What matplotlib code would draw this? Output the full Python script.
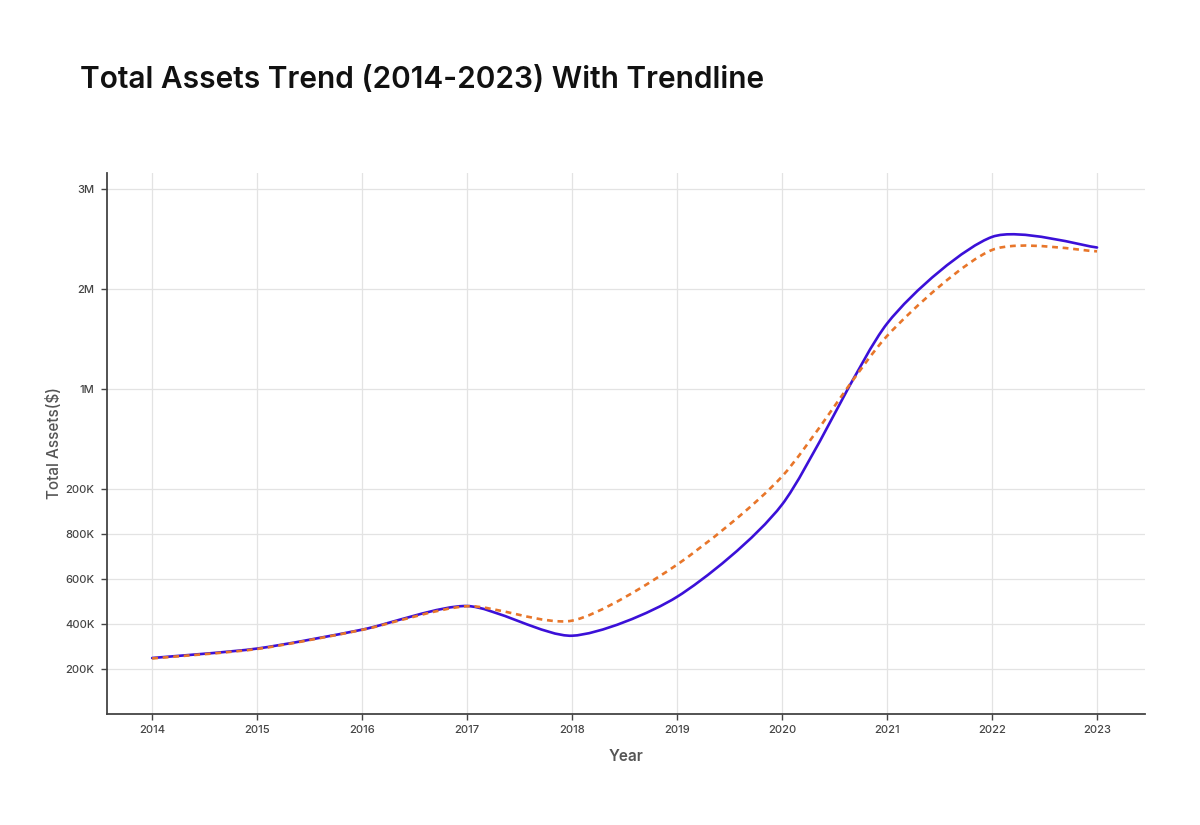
import numpy as np
import matplotlib
matplotlib.use("Agg")
import matplotlib.pyplot as plt
from matplotlib.path import Path
from matplotlib.patches import PathPatch

years = [2014, 2015, 2016, 2017, 2018, 2019, 2020, 2021, 2022, 2023]
total_assets = [249, 291, 375, 480, 348, 521, 931, 1735, 2120, 2073]
trendline = [247, 289, 374, 479, 415, 664, 1056, 1680, 2062, 2056]

tick_values = [200, 400, 600, 800, 1000, 1444, 1889, 2333]
tick_labels = ["200K", "400K", "600K", "800K", "200K", "1M", "2M", "3M"]

plt.rcParams['font.family'] = ['Inter', 'DejaVu Sans']


def smooth_path(x, y, k=0.75):
    # cardinal spline through the points, drawn as cubic bezier segments
    pts = np.column_stack([x, y]).astype(float)
    ext = np.vstack([pts[0], pts, pts[-1]])
    verts = [pts[0]]
    codes = [Path.MOVETO]
    for i in range(1, len(ext) - 2):
        p0, p1, p2, p3 = ext[i - 1], ext[i], ext[i + 1], ext[i + 2]
        verts += [p1 + k * (p2 - p0) / 6, p2 - k * (p3 - p1) / 6, p2]
        codes += [Path.CURVE4] * 3
    return Path(verts, codes)


fig = plt.figure(figsize=(12, 8.25), dpi=100)
ax = fig.add_axes([0.0892, 0.1345, 0.8648, 0.6558])

ax.add_patch(PathPatch(smooth_path(years, total_assets), fill=False,
                       edgecolor="#3b10d8", lw=1.9, capstyle="round", zorder=3))
ax.add_patch(PathPatch(smooth_path(years, trendline), fill=False,
                       edgecolor="#e8762a", lw=1.9, linestyle=(0, (2.2, 1.8)), zorder=4))

ax.set_xlim(2013.57, 2023.455)
ax.set_ylim(0, 2404)
ax.set_xticks(years)
ax.set_yticks(tick_values)
ax.set_yticklabels(tick_labels)
ax.grid(True, color="#e3e3e3", lw=0.9)
ax.set_axisbelow(True)

for s in ["top", "right"]:
    ax.spines[s].set_visible(False)
for s in ["left", "bottom"]:
    ax.spines[s].set_color("#444444")
    ax.spines[s].set_linewidth(1.3)
ax.tick_params(axis="both", labelsize=8, colors="#444444", length=4, width=1)
ax.tick_params(axis="x", pad=4)
ax.tick_params(axis="y", pad=5)
for lbl in ax.get_xticklabels() + ax.get_yticklabels():
    lbl.set_fontweight("medium")

ax.set_xlabel("Year", fontsize=11, color="#555555", fontweight="semibold", labelpad=10)
ax.set_ylabel("Total Assets($)", fontsize=11, color="#555555", fontweight="medium", labelpad=2)

fig.text(0.067, 0.903, "Total Assets Trend (2014-2023) With Trendline",
         fontsize=21.5, fontweight="semibold", color="#111111", va="center")

fig.savefig("out.png", dpi=100, facecolor="white")
